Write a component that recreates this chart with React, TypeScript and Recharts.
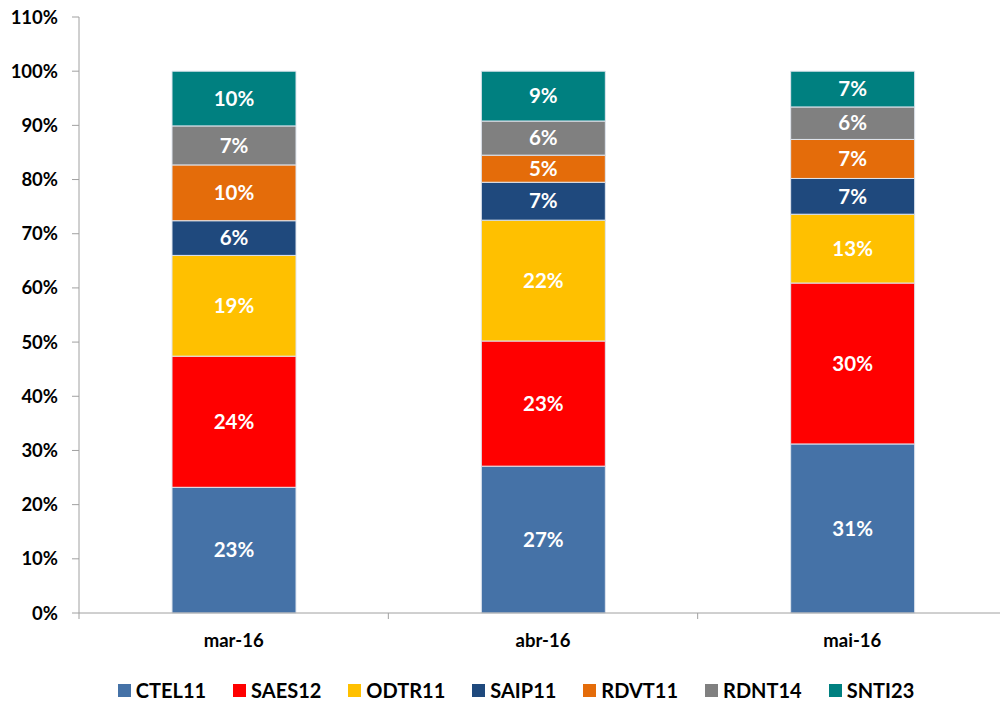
import React from "react";
import { BarChart, Bar, XAxis, YAxis, LabelList } from "recharts";

const categories = ["mar-16", "abr-16", "mai-16"];
const seriesNames = ["CTEL11", "SAES12", "ODTR11", "SAIP11", "RDVT11", "RDNT14", "SNTI23"];
const CTEL11 = [23.2, 27.1, 31.2];
const SAES12 = [24.2, 23.1, 29.7];
const ODTR11 = [18.6, 22.3, 12.7];
const SAIP11 = [6.4, 7.0, 6.6];
const RDVT11 = [10.3, 5.0, 7.2];
const RDNT14 = [7.2, 6.3, 6.0];
const SNTI23 = [10.1, 9.2, 6.6];
const yTicks = [0, 10, 20, 30, 40, 50, 60, 70, 80, 90, 100, 110];

const seriesValues = [CTEL11, SAES12, ODTR11, SAIP11, RDVT11, RDNT14, SNTI23];
const colors = ["#4572A7", "#FF0000", "#FFC000", "#1F497D", "#E46C0A", "#808080", "#008080"];

const data = categories.map((c, i) => {
  const row: any = { name: c };
  seriesNames.forEach((s, k) => (row[s] = seriesValues[k][i]));
  return row;
});

const FONT = "Lato, 'Open Sans', sans-serif";

const XTick = (props: any) => {
  const { x, y, payload, index } = props;
  const half = payload && payload.offset ? payload.offset : 154.5;
  return (
    <g>
      <line x1={x - half} x2={x - half} y1={y - 8} y2={y - 2} stroke="#a0a0a0" />
      {index === categories.length - 1 && (
        <line x1={x + half} x2={x + half} y1={y - 8} y2={y - 2} stroke="#a0a0a0" />
      )}
      <text x={x} y={y + 26} textAnchor="middle" fontFamily={FONT} fontWeight={700} fontSize={18.5} fill="#000">
        {payload.value}
      </text>
    </g>
  );
};

const LegendContent = () => (
  <div
    style={{
      display: "flex",
      justifyContent: "center",
      alignItems: "center",
      fontFamily: FONT,
      fontWeight: 700,
      fontSize: 20,
      color: "#000",
    }}
  >
    {seriesNames.map((s, i) => (
      <div key={s} style={{ display: "flex", alignItems: "center", marginRight: i < seriesNames.length - 1 ? 27 : 0 }}>
        <div style={{ width: 13, height: 13, background: colors[i], marginRight: 5 }} />
        <span>{s}</span>
      </div>
    ))}
  </div>
);

export default function App() {
  return (
    <div style={{ position: "absolute", left: 0, top: 0, width: 1000, height: 703, overflow: "hidden", background: "#fff" }}>
      <BarChart
        width={1010}
        height={703}
        data={data}
        margin={{ top: 17, right: 3, bottom: 60, left: 0 }}
        barSize={124}
      >
        <XAxis
          dataKey="name"
          height={30}
          tickLine={false}
          axisLine={{ stroke: "#a0a0a0" }}
          tick={<XTick />}
          interval={0}
        />
        <YAxis
          width={79}
          domain={[0, 110]}
          ticks={yTicks}
          interval={0}
          tickFormatter={(v: number) => `${v}%`}
          tickSize={7}
          tickMargin={14}
          axisLine={{ stroke: "#a0a0a0" }}
          tickLine={{ stroke: "#a0a0a0" }}
          tick={{ fontFamily: FONT, fontWeight: 700, fontSize: 18.5, fill: "#000" }}
        />
        {seriesNames.map((s, i) => (
          <Bar key={s} dataKey={s} stackId="a" fill={colors[i]} stroke="#dfe5ee" strokeWidth={1} isAnimationActive={false}>
            <LabelList
              dataKey={s}
              position="center"
              formatter={(v: any) => `${Math.round(Number(v))}%`}
              style={{ fill: "#fff", fontFamily: FONT, fontWeight: 700, fontSize: 20.5 }}
            />
          </Bar>
        ))}
      </BarChart>
      <div style={{ position: "absolute", left: 16, top: 678, width: 1000 }}>
        <LegendContent />
      </div>
    </div>
  );
}
